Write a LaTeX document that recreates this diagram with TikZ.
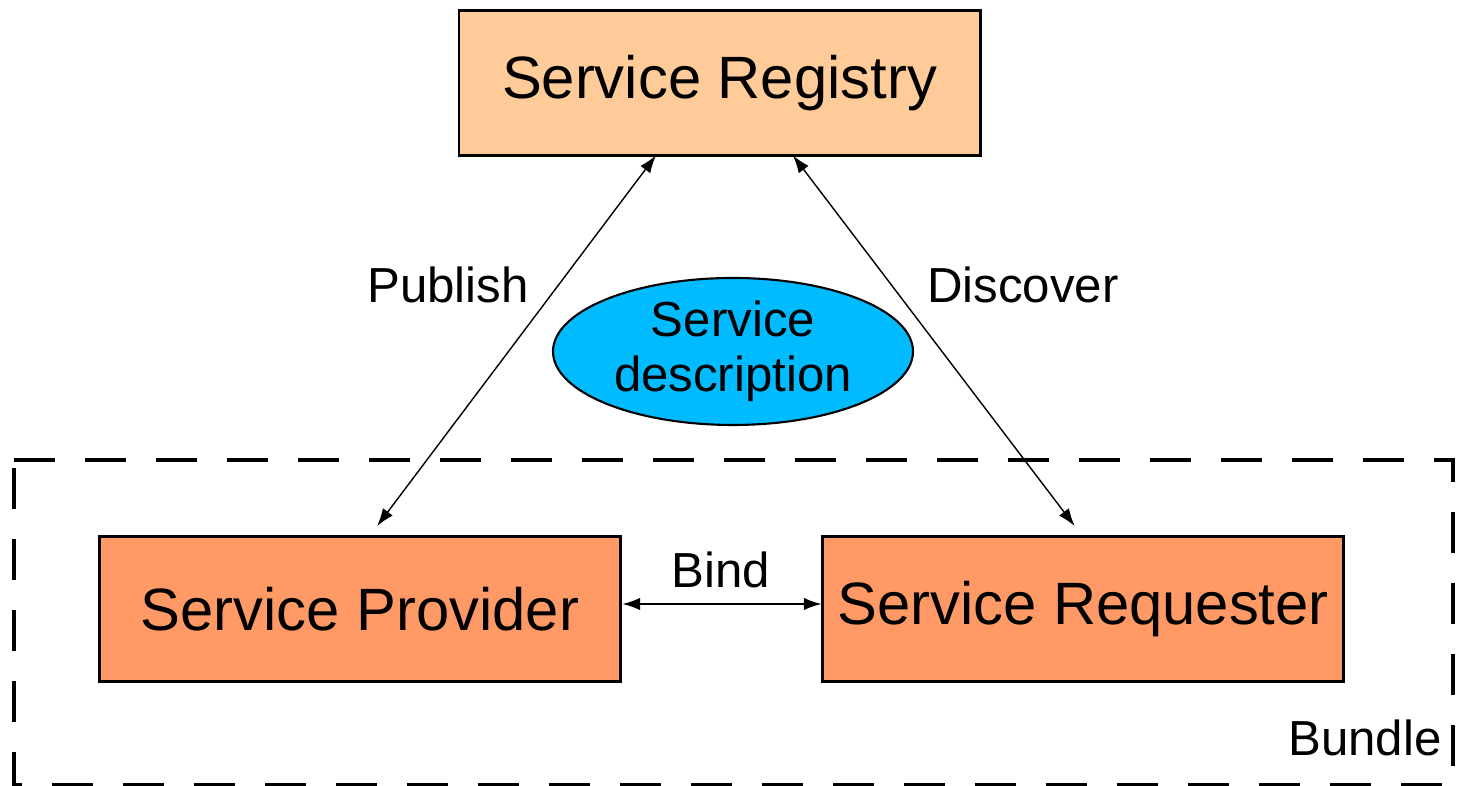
\documentclass[tikz,border=0pt]{standalone}
\usepackage{fontspec}
\setmainfont{Liberation Sans}
\usepackage{tikz}
\usetikzlibrary{shapes,arrows.meta,positioning,calc}
\definecolor{regfill}{RGB}{255,204,153}
\definecolor{boxfill}{RGB}{255,153,102}
\definecolor{descfill}{RGB}{0,187,255}

\begin{document}
\begin{tikzpicture}[outer sep=0pt,
        svcbox/.style={rectangle, draw, line width=0.85pt, minimum width=5.21cm, minimum height=1.45cm, font=\fontsize{17}{20}\selectfont},
        link/.style={{Latex[length=5pt,width=3.5pt]}-{Latex[length=5pt,width=3.5pt]}, line width=0.4pt},
        lbl/.style={font=\fontsize{14}{15.6}\selectfont}]
        \useasboundingbox (0,0) rectangle (14.6,7.86);
        \node (reg) [svcbox, fill=regfill] at (7.195,7.03) {Service Registry};
        \node (prov) [svcbox, fill=boxfill] at (3.60,1.765) {Service Provider};
        \node (req) [svcbox, fill=boxfill, right=2.02cm of prov] {Service Requester};
        \node (desc) [ellipse, draw, line width=0.6pt, fill=descfill, minimum width=3.6cm, minimum height=1.47cm, inner sep=0pt, align=center, lbl] at (7.33,4.345) {Service\\description};

        % bundle boundary
        \draw[line width=1.1pt, dash pattern=on 11.7pt off 8.5pt] (0.14,3.26) -- (14.53,3.26) -- (14.53,0.01) -- (0.14,0.01) -- cycle;
        \node (bundle) [lbl] at (13.65,0.48) {Bundle};

        \draw[link] ($(reg.south west)!0.378!(reg.south east)$) -- ($(prov.north west)!0.533!(prov.north east)+(0,0.11)$);
        \draw[link] ($(reg.south west)!0.641!(reg.south east)$) -- ($(req.north west)!0.484!(req.north east)+(0,0.11)$);
        \draw[link] ($(prov.east)+(0.02,0.055)$) -- ($(req.west)+(-0.01,0.055)$);
        \node (publish) [lbl] at (4.48,5.01) {Publish};
        \node (discover) [lbl] at (10.23,5.01) {Discover};
        \node (bind) [lbl] at (7.21,2.16) {Bind};
    \end{tikzpicture}
\end{document}
